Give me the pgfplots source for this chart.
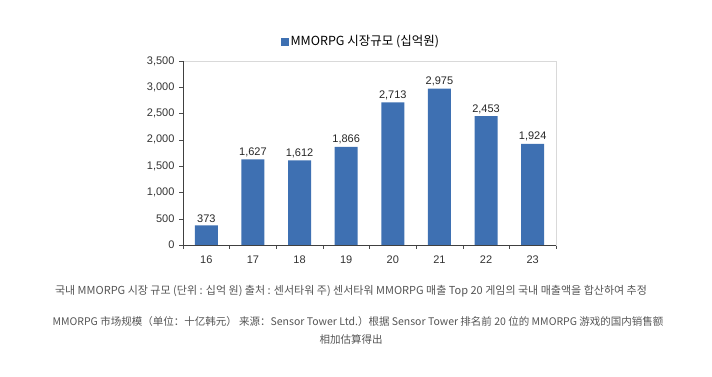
\documentclass[border=0pt]{standalone}
\usepackage{fontspec}
\setmainfont{Liberation Sans}
\newfontfamily\krfont{Noto Sans CJK KR}
\newfontfamily\cnfont{Noto Sans CJK SC}
\usepackage{pgfplots}
\pgfplotsset{compat=1.18}
\definecolor{barblue}{HTML}{3E70B2}
\definecolor{captiongray}{HTML}{555555}
\definecolor{framegray}{HTML}{D9D9D9}
\begin{document}
\begin{tikzpicture}[x=1pt,y=1pt]
\path[use as bounding box] (0,0) rectangle (712,377);
\begin{axis}[
  at={(183pt,132pt)}, anchor=south west,
  width=373pt, height=184pt, scale only axis,
  xmin=-0.5, xmax=7.5, ymin=0, ymax=3500,
  ytick={0,500,...,3500},
  xtick={0,...,7},
  xticklabels={16,17,18,19,20,21,22,23},
  minor xtick={-0.5,0.5,...,7.5},
  major x tick style={draw=none},
  tick pos=left,
  tick align=outside,
  major tick length=4pt, minor tick length=4pt,
  tick style={black!70, thin},
  axis line style={framegray},
  /pgf/number format/assume math mode=true,
  /pgf/number format/1000 sep={,},
  ticklabel style={font=\fontsize{11}{13}\selectfont, text=black!80},
  yticklabel style={xshift=-1pt},
  xticklabel style={yshift=-3pt},
  nodes near coords,
  every node near coord/.append style={font=\fontsize{11}{13}\selectfont, text=black!85, yshift=-1pt},
  clip=false,
]
\addplot[ybar, bar width=23pt, fill=barblue, draw=none] coordinates {
(0,373) (1,1627) (2,1612) (3,1866) (4,2713) (5,2975) (6,2453) (7,1924)};
\draw[black!75] (rel axis cs:0,1) -- (rel axis cs:0,0) -- (rel axis cs:1,0);
\end{axis}
\node[anchor=center] at (360,335) {\textcolor{barblue}{\rule{8pt}{8pt}}\,{\fontsize{12.5}{14}\selectfont\krfont MMORPG 시장규모 (십억원)}};
\node[anchor=center, text=captiongray] at (351,86) {\fontsize{11}{13}\selectfont\krfont 국내 MMORPG 시장 규모 (단위 : 십억 원) 출처 : 센서타워 주) 센서타워 MMORPG 매출 Top 20 게임의 국내 매출액을 합산하여 추정};
\node[anchor=center, text=captiongray] at (358,55) {\fontsize{10.5}{12}\selectfont\cnfont MMORPG 市场规模（单位：十亿韩元） 来源：Sensor Tower Ltd.）根据 Sensor Tower 排名前 20 位的 MMORPG 游戏的国内销售额};
\node[anchor=center, text=captiongray] at (351,38) {\fontsize{10.5}{12}\selectfont\cnfont 相加估算得出};
\end{tikzpicture}
\end{document}
